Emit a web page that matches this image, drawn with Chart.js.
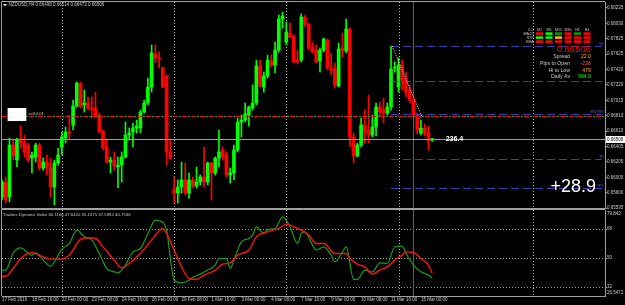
<!DOCTYPE html>
<html>
<head>
<meta charset="utf-8">
<script src="https://cdn.jsdelivr.net/npm/chart.js@4.4.1/dist/chart.umd.min.js"></script>
<style>
  html, body { margin: 0; padding: 0; background: #000; }
  #wrap { position: relative; width: 625px; height: 305px; background: #000; overflow: hidden; }
  #wrap canvas { position: absolute; left: 0; }
  #priceChart { top: 0; }
  #tdiChart { top: 209px; }
</style>
</head>
<body>
<div id="wrap">
  <canvas id="priceChart" width="625" height="209"></canvas>
  <canvas id="tdiChart" width="625" height="96"></canvas>
</div>
<script>
// NZDUSD H4 candles, bar 0 = 22 Feb 00:00, first candle is bar -16
const FONT = '"Liberation Sans", Arial, sans-serif';
const symbolTitle = 'NZDUSD,H4';
const firstBar = -16;

const opens = [0.65741,0.65939,0.65741,0.66427,0.66229,0.66493,0.66466,0.66427,0.66256,0.66269,0.66427,0.66124,0.66203,0.66124,0.65873,0.66190,
  0.66401,0.66519,0.66598,0.66691,0.66941,0.67244,0.66954,0.66981,0.66915,0.66915,0.66822,0.66611,0.66401,0.66203,0.66229,0.66137,0.66163,0.66269,0.66559,0.66598,0.66651,0.66651,0.66862,0.66981,0.67191,0.67626,0.67574,0.67442,0.67336,0.66335,
  0.65847,0.65794,0.65873,0.65966,0.65794,0.65966,0.65887,0.65939,0.66005,0.65939,0.66190,0.66058,0.66256,0.66361,0.66295,0.66031,0.66058,0.66361,0.66730,0.66756,0.66822,0.66915,0.66981,0.67468,0.67191,0.67336,0.67534,0.67481,0.67679,0.68088,
  0.67784,0.67903,0.67864,0.67547,0.67547,0.68114,0.68022,0.67719,0.67679,0.67534,0.67679,0.67811,0.67442,0.67429,0.67205,0.67705,0.67666,0.67956,0.66532,0.66282,0.66427,0.66691,0.66625,0.66559,0.66664,0.66928,0.66888,0.66849,0.66928,0.67442,
  0.67191,0.67481,0.67310,0.67152,0.67020,0.66822,0.66585,0.66651,0.66598,0.66498];
const highs = [0.65966,0.66005,0.66519,0.66493,0.66519,0.66677,0.66559,0.66453,0.66335,0.66453,0.66453,0.66256,0.66295,0.66256,0.66229,0.66387,
  0.66598,0.66664,0.66822,0.67020,0.67257,0.67257,0.67152,0.67060,0.67060,0.67125,0.66849,0.66625,0.66493,0.66269,0.66335,0.66269,0.66335,0.66730,0.66651,0.66717,0.66756,0.66888,0.67020,0.67310,0.67745,0.67745,0.67653,0.67455,0.67350,0.66493,
  0.66005,0.65966,0.66203,0.66190,0.66058,0.66005,0.66137,0.66031,0.66401,0.66203,0.66203,0.66269,0.66625,0.66401,0.66335,0.66124,0.66427,0.66783,0.66822,0.66981,0.66941,0.67218,0.67547,0.67547,0.67389,0.67613,0.67613,0.67784,0.68140,0.68180,
  0.68048,0.68035,0.67877,0.67679,0.68154,0.68140,0.68035,0.67784,0.67745,0.67705,0.67837,0.67824,0.67640,0.67508,0.67771,0.67903,0.68088,0.67969,0.66585,0.66453,0.66783,0.66888,0.67086,0.66822,0.66981,0.66994,0.67046,0.66981,0.67732,0.67521,
  0.67574,0.67547,0.67389,0.67218,0.67086,0.66849,0.66756,0.66704,0.66677,0.66514];
const lows = [0.65702,0.65662,0.65676,0.66229,0.66137,0.66387,0.66269,0.66203,0.66058,0.66203,0.66097,0.66097,0.66031,0.65741,0.65636,0.66163,
  0.66295,0.66453,0.66493,0.66625,0.66928,0.66915,0.66862,0.66888,0.66783,0.66796,0.66585,0.66361,0.66190,0.66058,0.66097,0.65860,0.65939,0.66256,0.66493,0.66401,0.66585,0.66585,0.66849,0.66954,0.67125,0.67508,0.67442,0.67178,0.66163,0.66229,
  0.65662,0.65662,0.65794,0.65768,0.65728,0.65860,0.65860,0.65900,0.65873,0.65900,0.65702,0.66031,0.66137,0.66229,0.66005,0.65926,0.65966,0.66335,0.66532,0.66730,0.66677,0.66888,0.66954,0.67191,0.67125,0.67310,0.67455,0.67376,0.67653,0.67969,
  0.67745,0.67837,0.67508,0.67495,0.67521,0.67982,0.67679,0.67640,0.67508,0.67389,0.67653,0.67415,0.67350,0.67178,0.67191,0.67587,0.67640,0.66401,0.66190,0.66269,0.66401,0.66453,0.66453,0.66532,0.66546,0.66796,0.66717,0.66822,0.66888,0.67389,
  0.67125,0.67152,0.67060,0.66981,0.66783,0.66572,0.66559,0.66546,0.66361,0.66473];
const closes = [0.65939,0.65702,0.66427,0.66295,0.66493,0.66453,0.66335,0.66229,0.66295,0.66427,0.66124,0.66203,0.66124,0.65873,0.66190,0.66295,
  0.66532,0.66598,0.66585,0.66941,0.67244,0.66928,0.66981,0.66915,0.66901,0.66796,0.66598,0.66387,0.66203,0.66229,0.66150,0.66163,0.66269,0.66559,0.66585,0.66651,0.66677,0.66862,0.66981,0.67191,0.67640,0.67574,0.67560,0.67191,0.66335,0.66256,
  0.65794,0.65873,0.65966,0.65794,0.65966,0.65887,0.65939,0.66005,0.65939,0.66190,0.66058,0.66256,0.66335,0.66269,0.66031,0.66058,0.66361,0.66730,0.66756,0.66836,0.66928,0.66981,0.67468,0.67205,0.67336,0.67547,0.67481,0.67679,0.68088,0.68127,
  0.67916,0.67850,0.67521,0.67521,0.68114,0.68022,0.67705,0.67653,0.67521,0.67679,0.67824,0.67442,0.67415,0.67218,0.67692,0.67666,0.67956,0.66532,0.66282,0.66427,0.66691,0.66598,0.66559,0.66664,0.66928,0.66862,0.66849,0.66928,0.67429,0.67455,
  0.67481,0.67284,0.67125,0.67020,0.66822,0.66625,0.66651,0.66572,0.66480,0.66506];

const priceTicks = [0.68235,0.68030,0.67825,0.67625,0.67420,0.67220,0.67015,0.66810,0.66610,0.66405,0.66205,0.66000,0.65800,0.65595];
const priceRange = [0.65597, 0.68312];
const viewBars = [-16, 145.2];
const dateTickBars = [-16,-8,0,8,16,24,32,40,48,56,64,72,80,88,96];
const dateTickLabels = ['17 Feb 2016','18 Feb 16:00','22 Feb 00:00','23 Feb 08:00','24 Feb 16:00','26 Feb 00:00','29 Feb 08:00',
  '1 Mar 16:00','3 Mar 00:00','4 Mar 08:00','7 Mar 16:00','9 Mar 00:00','10 Mar 08:00','11 Mar 16:00','15 Mar 00:00'];
const separatorBars = [0, 30, 60, 90, 126];
const markerBar = 94;

// Traders Dynamic Index: green price line and red signal line
const rsiBars = [-16,-15,-13,-11,-8,-7,-5,-3,-2,0,2,4,6,8,10,12,14,15,17,19,21,23,25,26,28,29,30,32,34,35,37,39,41,42,44,45,46,48,50,51,52,54,55,57,59,61,63,64,65,67,68,70,72,73,75,76,78,79,81,83,85,87,89,91,92,94,96,98,99];
const rsiValues = [42.6,42.6,53.3,56.4,51.9,53.3,48.8,45.0,47.7,55.4,59.1,67.4,63.2,61.2,52.9,43.6,41.5,40.9,45.7,53.9,56.0,65.3,73.6,73.2,67.4,49.8,36.3,34.7,36.3,38.0,40.1,42.6,45.7,49.8,49.8,43.6,48.8,60.1,62.2,64.3,69.4,65.3,67.8,68.4,75.6,69.4,59.1,65.3,66.3,58.1,55.0,57.0,51.9,47.7,53.9,57.0,36.8,36.8,42.6,41.5,47.1,46.7,57.0,57.4,52.9,45.7,41.5,39.5,37.6];
const signalBars = [-16,-15,-13,-11,-8,-6,-3,0,2,5,7,9,11,14,16,18,21,24,27,28,30,32,34,36,38,41,43,45,47,50,52,55,58,60,62,64,66,68,70,73,76,77,79,81,83,85,87,89,91,92,94,96,98,99];
const signalValues = [38.8,38.8,43.6,49.8,53.5,51.9,49.4,49.4,51.9,61.6,62.6,62.2,57.0,48.8,44.0,46.7,52.9,61.2,68.4,65.3,55.0,44.6,37.4,36.8,39.5,42.6,46.3,47.1,51.9,55.0,63.2,66.3,68.4,71.1,69.4,67.4,64.3,59.1,59.1,52.9,52.9,49.8,46.3,44.6,40.1,42.6,44.6,48.8,51.9,53.9,53.5,49.8,45.7,40.75];
const tdiLevels = [68, 50, 32];
const tdiRange = [26.5471, 79.843];
const tdiHeader = [60.1166, 47.6420, 35.1675, 37.5982, 40.7536];

// chart objects
const entryPrice = 0.66809;
const orderLevels = [0.67732, 0.67270, 0.66830, 0.66242, 0.65860];
const orderLevelNames = ['SL', '', 'ENTRY', 'TP', 'TP1'];
const orderStartBar = 88;
const trendBars = [88, 96];
const trendPrices = [0.67732, 0.66796];
const tradeBoxBars = [-14.5, -9.5];
const tradeBoxPrices = [0.66915, 0.66743];
const tradeLabel = 'sell 0.01';
const textBars = [102.6, 130.6];
const textPrices = [0.66506, 0.65873];
const textValues = ['236.4', '+28.9'];

// info panel, top right
const tfNames = ['M1', 'M5', 'M15', 'M30', 'H1', 'H4'];
const signalRowNames = ['CCI', 'MACD', 'STR', 'EMA'];
const signalStates = [
  ['dn', 'up', 'wup', 'dn', 'wup', 'dn'],
  ['up', 'up', 'neu', 'dn', 'dn', 'dn'],
  ['dn', 'dn', 'dn', 'dn', 'dn', 'dn']
];
const stateColors = { up: '#00ff00', wup: '#009a00', neu: '#ffb000', dn: '#ff0000' };
const infoNames = ['Spread', 'Pips to Open', 'Hi to Low', 'Daily Av'];
const infoValues = ['22.0', '-236', '479', '994.0'];
const infoColors = ['#ffa500', '#ff5a1e', '#ffa500', '#00ff00'];

const FRAME = '#a0a0a0';
const TEXT = '#c8c8c8';

function px(v) { return Math.round(v) + 0.5; }

function hLine(ctx, x1, x2, y, color, dash, offset) {
  ctx.save();
  ctx.strokeStyle = color;
  ctx.lineWidth = 1;
  ctx.setLineDash(dash || []);
  ctx.lineDashOffset = offset || 0;
  ctx.beginPath();
  ctx.moveTo(x1, y);
  ctx.lineTo(x2, y);
  ctx.stroke();
  ctx.restore();
}

function vLine(ctx, x, y1, y2, color, dash) {
  ctx.save();
  ctx.strokeStyle = color;
  ctx.lineWidth = 1;
  ctx.setLineDash(dash || []);
  ctx.beginPath();
  ctx.moveTo(x, y1);
  ctx.lineTo(x, y2);
  ctx.stroke();
  ctx.restore();
}

function label(ctx, str, x, y, color, size, align, weight) {
  ctx.save();
  ctx.font = (weight || 'normal') + ' ' + size + 'px ' + FONT;
  ctx.fillStyle = color;
  ctx.textAlign = align || 'left';
  ctx.textBaseline = 'middle';
  ctx.fillText(str, x, y);
  ctx.restore();
}

function fillBlack(chart) {
  const { ctx, width, height } = chart;
  ctx.save();
  ctx.fillStyle = '#000';
  ctx.fillRect(0, 0, width, height);
  ctx.restore();
}

function drawSeparators(chart) {
  const { ctx, chartArea: a, scales: { x } } = chart;
  separatorBars.forEach(b => vLine(ctx, px(x.getPixelForValue(b)), a.top, a.bottom, '#b8b8b8', [1, 2]));
  vLine(ctx, px(x.getPixelForValue(markerBar)), a.top, a.bottom, '#5c5c5c');
}

const pricePanel = {
  id: 'pricePanel',
  beforeDraw: fillBlack,
  beforeDatasetsDraw: drawSeparators,
  afterDatasetsDraw(chart) {
    const { ctx, chartArea: a, scales: { x, y } } = chart;
    const last = closes.length - 1;

    // frame
    ctx.save();
    ctx.strokeStyle = FRAME;
    ctx.beginPath();
    ctx.moveTo(a.right, a.top - 0.5);
    ctx.lineTo(a.left - 0.5, a.top - 0.5);
    ctx.lineTo(a.left - 0.5, a.bottom + 0.5);
    ctx.lineTo(a.right, a.bottom + 0.5);
    ctx.stroke();
    ctx.restore();

    // entry line (red / green dash-dot)
    const ey = px(y.getPixelForValue(entryPrice));
    hLine(ctx, a.left, a.right, ey, '#e01010', [5, 4], 0);
    hLine(ctx, a.left, a.right, ey, '#10b010', [2, 7], -6);

    // order levels
    const x0 = x.getPixelForValue(orderStartBar);
    orderLevels.forEach((p, i) => {
      const ly = px(y.getPixelForValue(p));
      hLine(ctx, x0, a.right - 3, ly, '#3c3cb0', [8, 4]);
      if (orderLevelNames[i]) label(ctx, orderLevelNames[i], a.right - 1, ly - 2.5, '#5a5ad0', 4, 'right');
    });

    // trend line
    ctx.save();
    ctx.strokeStyle = '#f0f0f0';
    ctx.setLineDash([1, 1.5]);
    ctx.beginPath();
    ctx.moveTo(x.getPixelForValue(trendBars[0]) + 1, y.getPixelForValue(trendPrices[0]));
    ctx.lineTo(x.getPixelForValue(trendBars[1]) + 1, y.getPixelForValue(trendPrices[1]));
    ctx.stroke();
    ctx.restore();

    // bid line
    const by = px(y.getPixelForValue(closes[last]));
    hLine(ctx, a.left, a.right, by, '#9c9c9c');

    // trade box on the left
    const bx1 = x.getPixelForValue(tradeBoxBars[0]), bx2 = x.getPixelForValue(tradeBoxBars[1]);
    const byTop = y.getPixelForValue(tradeBoxPrices[0]), byBot = y.getPixelForValue(tradeBoxPrices[1]);
    ctx.save();
    ctx.fillStyle = '#ffffff';
    ctx.fillRect(bx1, byTop, bx2 - bx1, byBot - byTop);
    ctx.restore();
    label(ctx, tradeLabel, bx2 + 2, (byTop + byBot) / 2 - 1, TEXT, 4.2);

    // header
    ctx.save();
    ctx.fillStyle = '#e0e0e0';
    ctx.beginPath();
    ctx.moveTo(3, 4); ctx.lineTo(7, 4); ctx.lineTo(5, 6.5); ctx.closePath();
    ctx.fill();
    ctx.restore();
    const ohlc = [opens[last], highs[last], lows[last], closes[last]].map(v => v.toFixed(5)).join(' ');
    label(ctx, symbolTitle + ' ' + ohlc, 8.5, 5.2, TEXT, 4.5);

    // text objects
    label(ctx, textValues[0], x.getPixelForValue(textBars[0]), y.getPixelForValue(textPrices[0]), '#ffffff', 7, 'left', 'bold');
    label(ctx, textValues[1], x.getPixelForValue(textBars[1]), y.getPixelForValue(textPrices[1]), '#ffffff', 18);

    // info panel
    const ir = a.right - 14;
    tfNames.forEach((t, k) => label(ctx, t, ir - 51.5 + k * 9.5, 29.5, TEXT, 3.6, 'center'));
    signalRowNames.forEach((n, r) => label(ctx, n, ir - 57, 29.5 + r * 4, TEXT, 3.6, 'right'));
    signalStates.forEach((row, r) => row.forEach((s, k) => {
      ctx.fillStyle = stateColors[s];
      ctx.fillRect(ir - 55 + k * 9.5, 32.3 + r * 4, 7, 2.6);
    }));
    label(ctx, closes[last].toFixed(5), ir, 49, '#ff0000', 9.5, 'right');
    infoNames.forEach((n, r) => {
      const ly = 57 + r * 6.6;
      label(ctx, n, ir - 21, ly, TEXT, 5.2, 'right');
      label(ctx, infoValues[r], ir, ly, infoColors[r], 5.2, 'right');
    });

    // bid price box on the axis
    ctx.save();
    ctx.fillStyle = '#ffffff';
    ctx.fillRect(a.right + 1, by - 3.5, 19, 7);
    ctx.restore();
    label(ctx, closes[last].toFixed(5), a.right + 2, by, '#000000', 4.5);
  }
};

const tdiPanel = {
  id: 'tdiPanel',
  beforeDraw: fillBlack,
  beforeDatasetsDraw: drawSeparators,
  afterDraw(chart) {
    const { ctx, chartArea: a, scales: { y } } = chart;
    ctx.save();
    ctx.strokeStyle = FRAME;
    ctx.beginPath();
    ctx.moveTo(a.right, a.top - 0.5);
    ctx.lineTo(a.left - 0.5, a.top - 0.5);
    ctx.lineTo(a.left - 0.5, a.bottom);
    ctx.stroke();
    ctx.restore();
    label(ctx, 'Traders Dynamic Index ' + tdiHeader.map(v => v.toFixed(4)).join(' '), 3, 5.5, TEXT, 4.3);
    label(ctx, String(tdiRange[1]), y.left + 2, a.top + 3.5, TEXT, 4.5);
    label(ctx, String(tdiRange[0]), y.left + 2, a.bottom - 3.5, TEXT, 4.5);
  }
};

const barX = opens.map((_, i) => firstBar + i);
const candleColors = closes.map((c, i) => (c >= opens[i] ? '#00ff00' : '#ff0000'));

new Chart(document.getElementById('priceChart'), {
  type: 'bar',
  data: {
    datasets: [
      {
        label: 'wick',
        data: barX.map((b, i) => ({ x: b, y: [lows[i], highs[i]] })),
        backgroundColor: candleColors,
        barThickness: 1,
        grouped: false,
        order: 2
      },
      {
        label: 'body',
        data: barX.map((b, i) => ({ x: b, y: [opens[i], closes[i]] })),
        backgroundColor: candleColors,
        barThickness: 3,
        minBarLength: 1,
        grouped: false,
        order: 1
      }
    ]
  },
  options: {
    responsive: false,
    animation: false,
    events: [],
    layout: { padding: { left: 2, top: 2, right: 0, bottom: 1 } },
    plugins: { legend: { display: false }, tooltip: { enabled: false } },
    scales: {
      x: { type: 'linear', min: viewBars[0], max: viewBars[1], offset: false, display: false },
      y: {
        position: 'right',
        min: priceRange[0],
        max: priceRange[1],
        afterFit: s => { s.width = 20; },
        afterBuildTicks: s => { s.ticks = priceTicks.map(v => ({ value: v })); },
        ticks: { color: TEXT, font: { family: FONT, size: 4.5, lineHeight: 0.4 }, padding: 0, callback: v => v.toFixed(5) },
        grid: { drawOnChartArea: false, drawTicks: true, tickLength: 2, color: FRAME },
        border: { color: FRAME }
      }
    }
  },
  plugins: [pricePanel]
});

new Chart(document.getElementById('tdiChart'), {
  type: 'line',
  data: {
    datasets: [
      {
        data: signalBars.map((b, i) => ({ x: b, y: signalValues[i] })),
        borderColor: '#ff1010',
        borderWidth: 1.4,
        pointRadius: 0,
        cubicInterpolationMode: 'monotone',
        order: 0
      },
      {
        data: rsiBars.map((b, i) => ({ x: b, y: rsiValues[i] })),
        borderColor: '#14a014',
        borderWidth: 1.2,
        pointRadius: 0,
        cubicInterpolationMode: 'monotone',
        order: 1
      }
    ]
  },
  options: {
    responsive: false,
    animation: false,
    events: [],
    layout: { padding: { left: 2, top: 1, right: 0, bottom: 0 } },
    plugins: { legend: { display: false }, tooltip: { enabled: false } },
    scales: {
      x: {
        type: 'linear',
        min: viewBars[0],
        max: viewBars[1],
        offset: false,
        afterFit: s => { s.height = 9; },
        afterBuildTicks: s => { s.ticks = dateTickBars.map(v => ({ value: v })); },
        ticks: {
          color: TEXT, font: { family: FONT, size: 4.5 }, align: 'start', maxRotation: 0, autoSkip: false, padding: 0,
          callback: v => dateTickLabels[dateTickBars.indexOf(v)]
        },
        grid: { drawOnChartArea: false, drawTicks: true, tickLength: 1, color: FRAME },
        border: { color: FRAME }
      },
      y: {
        position: 'right',
        min: tdiRange[0],
        max: tdiRange[1],
        afterFit: s => { s.width = 20; },
        afterBuildTicks: s => { s.ticks = tdiLevels.map(v => ({ value: v })); },
        ticks: { color: TEXT, font: { family: FONT, size: 4.5, lineHeight: 0.4 }, padding: 0 },
        grid: { color: '#9a9a9a', drawTicks: true, tickLength: 2, tickBorderDash: [] },
        border: { color: FRAME, dash: [1, 2] }
      }
    }
  },
  plugins: [tdiPanel]
});
</script>
</body>
</html>
